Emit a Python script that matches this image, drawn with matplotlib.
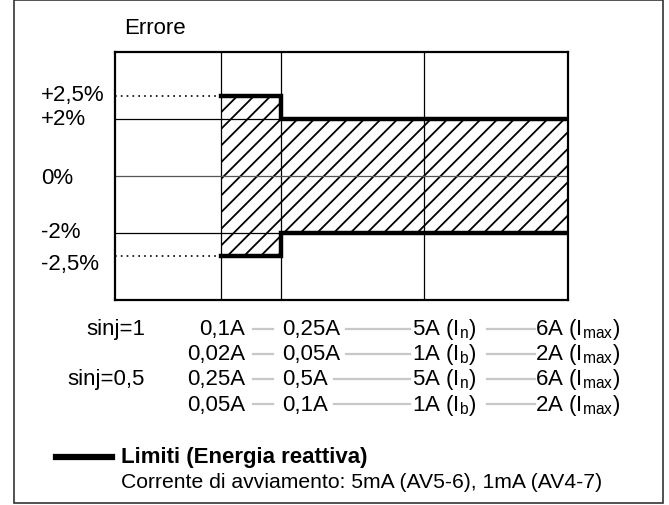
import matplotlib
matplotlib.use('Agg')
import matplotlib.pyplot as plt
from matplotlib.patches import Rectangle
import numpy as np

plt.rcParams['font.family'] = ['Liberation Sans', 'DejaVu Sans']
plt.rcParams['mathtext.fontset'] = 'custom'
plt.rcParams['mathtext.rm'] = 'Liberation Sans'
plt.rcParams['mathtext.it'] = 'Liberation Sans'

# data
y_levels = [2.5, 2.0, 0.0, -2.0, -2.5]
y_labels = ['+2,5%', '+2%', '0%', '-2%', '-2,5%']
upper_limit = [2.5, 2.0, 2.0]     # between column edges 1-2, 2-3, 3-4
lower_limit = [-2.5, -2.0, -2.0]
row_names = ['sinj=1', '', 'sinj=0,5', '']
col1 = ['0,1A', '0,02A', '0,25A', '0,05A']
col2 = ['0,25A', '0,05A', '0,5A', '0,1A']
col3 = [r'5A (I$_\mathrm{n}$)', r'1A (I$_\mathrm{b}$)', r'5A (I$_\mathrm{n}$)', r'1A (I$_\mathrm{b}$)']
col4 = [r'6A (I$_\mathrm{max}$)', r'2A (I$_\mathrm{max}$)', r'6A (I$_\mathrm{max}$)', r'2A (I$_\mathrm{max}$)']

W, H = 669, 506
fig = plt.figure(figsize=(W / 100, H / 100), dpi=100)

def fx(px):
    return px / W

def fy(py):
    return 1 - py / H

# schematic (non-linear) placement of the levels, in pixels
def ypos(v):
    return np.interp(v, [-2.5, -2, 0, 2, 2.5], [-80, -57, 0, 57, 80])

col_edges = [0, 106, 166, 309, 453]

L, R, T, B = 115, 568, 53, 301
ax = fig.add_axes([fx(L), fy(B), fx(R - L), (B - T) / H])
ax.set_xlim(0, col_edges[-1])
ax.set_ylim(-124, 124)
ax.set_xticks([])
ax.set_yticks([])
for s in ax.spines.values():
    s.set_linewidth(1.6)

# grid
for x in col_edges[1:-1]:
    ax.axvline(x, color='black', lw=0.9)
for v in [2.0, -2.0]:
    ax.axhline(ypos(v), color='black', lw=0.9)
ax.axhline(ypos(0), color='#555555', lw=0.9)
for v in [2.5, -2.5]:
    ax.plot([0, col_edges[1]], [ypos(v)] * 2, color='black', lw=1.2,
            linestyle=(0, (1, 2.5)))

# hatched band and thick limits
xs, up, lo = [], [], []
for i in range(3):
    xs += [col_edges[i + 1], col_edges[i + 2]]
    up += [ypos(upper_limit[i])] * 2
    lo += [ypos(lower_limit[i])] * 2
plt.rcParams['hatch.linewidth'] = 1.3
ax.fill_between(xs, lo, up, facecolor='none', edgecolor='black', hatch='//', lw=0)
ax.plot(xs, up, color='black', lw=3.2, solid_joinstyle='miter')
ax.plot(xs, lo, color='black', lw=3.2, solid_joinstyle='miter')

# labels
fs = 16
fig.text(fx(124), fy(28), 'Errore', fontsize=fs, va='center', ha='left')
label_y = [95, 120, 179, 233, 265]
for lab, py in zip(y_labels, label_y):
    fig.text(fx(41), fy(py), lab, fontsize=fs, va='center', ha='left')

gray = '#c8c8c8'
rows_y = [330, 355, 380, 405]
fig.canvas.draw()
rend = fig.canvas.get_renderer()
for i, py in enumerate(rows_y):
    if row_names[i]:
        fig.text(fx(145), fy(py), row_names[i], fontsize=fs, va='center', ha='right')
    fig.text(fx(245), fy(py), col1[i], fontsize=fs, va='center', ha='right')
    fig.add_artist(plt.Line2D([fx(253), fx(273)], [fy(py)] * 2, color=gray, lw=1.6))
    t2 = fig.text(fx(282), fy(py), col2[i], fontsize=fs, va='center', ha='left')
    x_end = t2.get_window_extent(rend).x1
    fig.add_artist(plt.Line2D([fx(x_end + 6), fx(410)], [fy(py)] * 2, color=gray, lw=1.6))
    fig.text(fx(412), fy(py), col3[i], fontsize=fs, va='center', ha='left')
    fig.add_artist(plt.Line2D([fx(487), fx(535)], [fy(py)] * 2, color=gray, lw=1.6))
    fig.text(fx(620), fy(py), col4[i], fontsize=fs, va='center', ha='right')

fig.add_artist(plt.Line2D([fx(56), fx(112)], [fy(458)] * 2, color='black', lw=4.5))
fig.text(fx(121), fy(458), 'Limiti (Energia reattiva)', fontsize=fs,
         fontweight='bold', va='center', ha='left')
fig.text(fx(121), fy(483), 'Corrente di avviamento: 5mA (AV5-6), 1mA (AV4-7)',
         fontsize=15.2, va='center', ha='left')

# outer frame
fig.add_artist(Rectangle((fx(14), fy(504)), fx(663 - 14), (504 - 1) / H,
                         transform=fig.transFigure, fill=False,
                         edgecolor='#333333', lw=1.2))

fig.savefig('out.png', dpi=100)
